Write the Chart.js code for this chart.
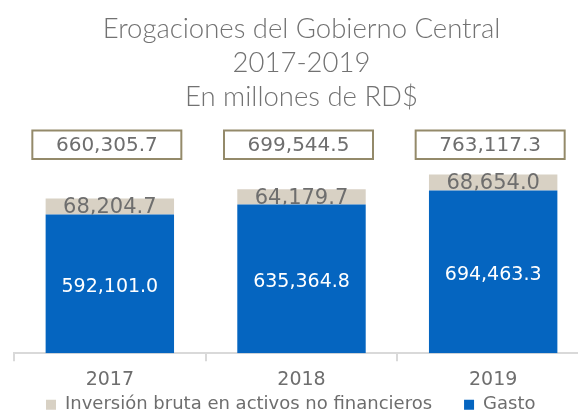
<!DOCTYPE html>
<html>
<head>
<meta charset="utf-8">
<script src="https://cdn.jsdelivr.net/npm/chart.js@4/dist/chart.umd.min.js"></script>
<style>
  html, body { margin: 0; padding: 0; background: #ffffff; overflow: hidden; }
  #wrap { position: absolute; left: 0; top: 0; width: 578px; height: 411px; overflow: hidden; }
  #c { position: absolute; left: 0; top: 0; }
</style>
</head>
<body>
<div id="wrap"><canvas id="c" width="603" height="411"></canvas></div>
<script>
const categories = ['2017', '2018', '2019'];
const gasto = [592101.0, 635364.8, 694463.3];
const inversion = [68204.7, 64179.7, 68654.0];
const titleLines = ['Erogaciones del Gobierno Central', '2017-2019', 'En millones de RD$'];
const seriesNames = ['Gasto', 'Inversión bruta en activos no financieros'];

const TITLE_FONT = 'Lato, "Open Sans", sans-serif';
const FONT = '"DejaVu Sans", sans-serif';
const GRAY = '#6e6e6e';
const BLUE = '#0565c0';
const BEIGE = '#d8d1c4';
const BOX_BORDER = '#948a6a';
const LEGEND_PAD = 32;
const LEGEND_FONT = 18;

function fmt(v) {
  return v.toLocaleString('en-US', { minimumFractionDigits: 1, maximumFractionDigits: 1 });
}

const labelPlugin = {
  id: 'labels',
  afterLayout(chart) {
    // place the legend row just below the category labels
    const L = chart.legend;
    if (L) {
      const target = chart.scales.x.top + 51.5;
      const shift = (L.top + LEGEND_PAD + LEGEND_FONT / 2) - target;
      L.top -= shift;
      L.bottom = chart.height;
    }
  },
  afterDatasetsDraw(chart) {
    const ctx = chart.ctx;
    const m0 = chart.getDatasetMeta(0);
    const m1 = chart.getDatasetMeta(1);
    ctx.save();
    ctx.textAlign = 'center';
    ctx.textBaseline = 'middle';
    // Gasto labels (white, in middle of blue bar)
    m0.data.forEach((bar, i) => {
      ctx.fillStyle = '#ffffff';
      ctx.font = '19px ' + FONT;
      ctx.fillText(fmt(gasto[i]), bar.x, (bar.y + bar.base) / 2 + 3);
    });
    // Inversion labels (gray, clipped by blue bar)
    m1.data.forEach((bar, i) => {
      ctx.save();
      ctx.beginPath();
      ctx.rect(bar.x - 90, bar.y - 30, 180, bar.base - bar.y + 30);
      ctx.clip();
      ctx.fillStyle = GRAY;
      ctx.font = '21px ' + FONT;
      ctx.fillText(fmt(inversion[i]), bar.x, (bar.y + bar.base) / 2 + 1.5);
      ctx.restore();
    });
    // Total boxes
    m1.data.forEach((bar, i) => {
      const total = gasto[i] + inversion[i];
      const w = 149, h = 28.5;
      const top = chart.chartArea.top + 11.5;
      const left = bar.x - w / 2 - 3;
      ctx.fillStyle = '#ffffff';
      ctx.fillRect(left, top, w, h);
      ctx.strokeStyle = BOX_BORDER;
      ctx.lineWidth = 2;
      ctx.strokeRect(left, top, w, h);
      ctx.fillStyle = GRAY;
      ctx.font = '20px ' + FONT;
      ctx.fillText(fmt(total), left + w / 2, top + h / 2 + 1.5);
    });
    ctx.restore();
  }
};

new Chart(document.getElementById('c'), {
  type: 'bar',
  data: {
    labels: categories,
    datasets: [
      { label: seriesNames[0], data: gasto, backgroundColor: BLUE, borderWidth: 0,
        barPercentage: 0.67, categoryPercentage: 1.0 },
      { label: seriesNames[1], data: inversion, backgroundColor: BEIGE, borderWidth: 0,
        barPercentage: 0.67, categoryPercentage: 1.0 }
    ]
  },
  options: {
    responsive: false,
    animation: false,
    devicePixelRatio: 1,
    layout: { padding: { left: 14, right: 14, top: 0, bottom: 0 } },
    plugins: {
      title: {
        display: true,
        text: titleLines,
        color: '#727272',
        font: { family: TITLE_FONT, size: 27.5, weight: '300', lineHeight: 1.2364 },
        padding: { top: 12, bottom: 5 }
      },
      legend: {
        position: 'bottom',
        align: 'start',
        reverse: true,
        maxHeight: 13,
        labels: {
          color: GRAY,
          font: { family: FONT, size: LEGEND_FONT },
          boxWidth: 10,
          boxHeight: 10,
          padding: LEGEND_PAD
        }
      },
      tooltip: { enabled: false }
    },
    scales: {
      x: {
        stacked: true,
        grid: { display: true, offset: true, drawOnChartArea: false, tickLength: 8, color: '#d9d9d9', lineWidth: 2 },
        border: { color: '#d9d9d9', width: 2 },
        ticks: { color: GRAY, font: { family: FONT, size: 19 }, padding: 7 }
      },
      y: {
        stacked: true,
        display: false,
        min: 0,
        max: 1000000
      }
    }
  },
  plugins: [labelPlugin]
});
</script>
</body>
</html>
